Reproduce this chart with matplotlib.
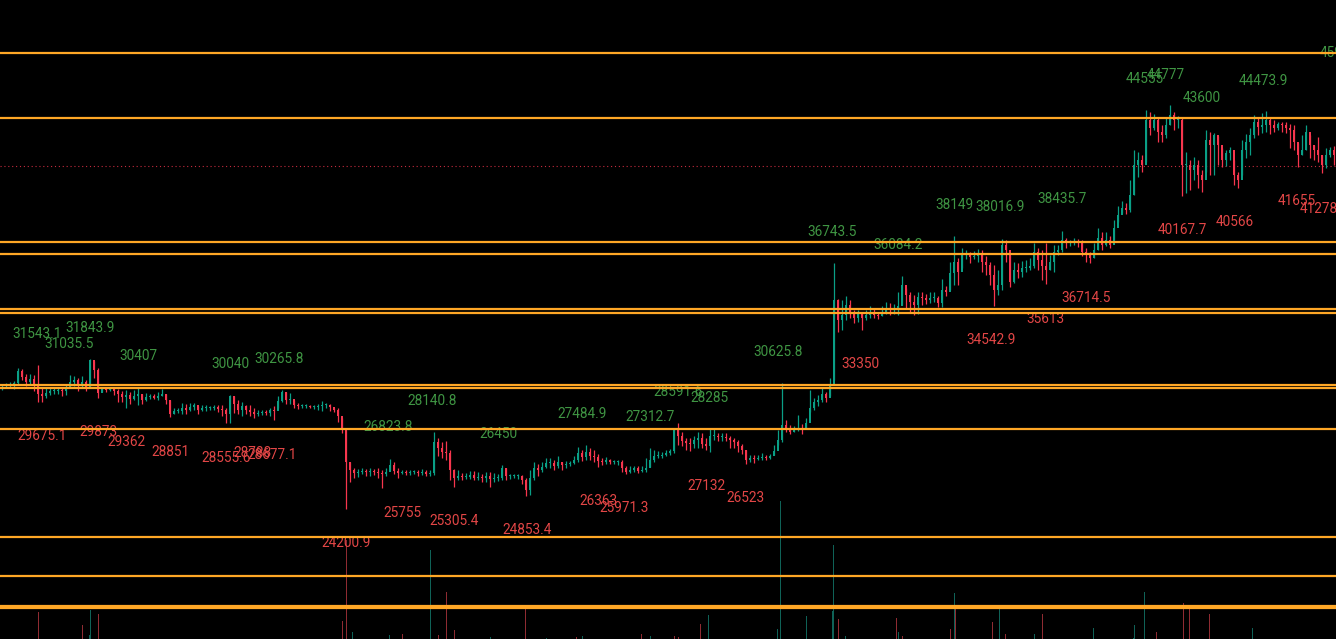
import matplotlib
matplotlib.use("Agg")
import matplotlib.pyplot as plt

closes = [
30480,30530,30580,30630,31250,30940,30690,30840,30530,30070,
29970,30120,30230,30230,30280,30230,30380,30690,30790,30580,
30690,30380,31810,31300,30120,30330,30280,30330,30230,30070,
29920,30020,29820,29970,30070,29770,29920,29970,29870,29970,
30070,29770,29050,29200,29200,29360,29260,29410,29510,29260,
29360,29360,29360,29410,29310,29260,29050,29970,29560,29260,
29460,29260,29150,29050,29100,29150,29100,29260,29200,29720,
30180,29770,29820,29510,29460,29460,29460,29410,29410,29460,
29510,29510,29410,29260,28950,28340,26600,26190,26040,26090,
26140,26090,26140,26090,26040,25990,26090,26450,26140,26040,
26090,26040,26090,26090,26040,26090,25990,26040,27620,27310,
27110,27060,26190,25780,25880,25830,25830,25940,25780,25830,
25780,25880,25730,25780,25780,26300,25880,25880,25880,25880,
25680,25170,25780,26300,26190,26350,26550,26550,26400,26600,
26450,26500,26550,26700,27060,26860,27110,26910,26860,26650,
26600,26700,26600,26600,26600,26300,26090,26190,26300,26140,
26190,26300,26700,26910,26910,26960,27060,27160,28290,27930,
27670,27570,27520,27720,27830,27520,27420,27930,27930,27880,
27880,27830,27720,27620,27420,27210,26700,26800,26750,26800,
26860,26800,26910,27160,27720,28490,28340,28130,28240,28340,
28240,28590,29360,29660,29770,30070,29870,30530,34870,33850,
34110,34620,34260,33950,34160,33950,34110,34210,34110,34060,
34260,34460,34360,34410,34570,35640,35130,34770,34620,35030,
34980,34870,34980,34980,34720,35380,35280,36250,36810,36300,
37170,37220,37070,37120,37270,36810,36660,36150,35380,35640,
37680,37430,35790,36400,36300,36510,36510,36610,37320,36920,
36610,36400,36810,37320,37430,37940,37780,37780,37880,37780,
37320,37170,37020,37430,38040,37680,37940,37680,38550,39210,
39570,39470,40230,41770,42020,41770,44060,43650,44060,43450,
43300,43810,44320,44060,44060,41770,41770,41510,41770,41250,
41000,43040,42790,43300,42790,42020,42380,42530,41250,41000,
42530,42940,43300,43960,43710,43810,44060,43810,43650,43860,
43810,43650,43550,42940,42280,42530,43450,42790,42530,42280,
41770,42280,42530,42280]

highs = [
30580,30630,30690,30740,31400,31350,31090,31090,31040,31550,
30380,30380,30430,30430,30430,30380,30580,31040,30990,30890,
30990,30790,31860,31760,31400,30430,30430,30430,30380,30330,
30230,30280,30180,30280,30380,30070,30120,30070,30070,30180,
30330,30070,29770,29360,29360,29610,29560,29610,29610,29460,
29510,29510,29460,29510,29510,29510,29360,30020,29970,29770,
29660,29510,29510,29360,29260,29260,29260,29360,29460,29970,
30280,30180,30120,29770,29610,29560,29560,29510,29510,29560,
29720,29610,29560,29360,29360,28850,28240,26600,26300,26250,
26300,26250,26300,26250,26300,26190,26300,26750,26600,26300,
26190,26190,26190,26190,26190,26250,26190,26190,28130,27830,
27620,27670,27210,26250,26190,26040,26040,26140,26140,26090,
25990,26090,26090,26040,25990,26450,26300,25990,25990,25990,
25940,25780,26190,26600,26500,26600,26800,26800,26700,26910,
26600,26650,26650,26910,27370,27210,27470,27310,27210,27010,
26800,26860,26750,26700,26700,26700,26400,26400,26400,26400,
26400,26800,27310,27210,27160,27110,27210,27260,28340,28590,
28130,27830,27830,27930,28130,28080,27830,28340,28290,28080,
28080,28080,27930,27830,27720,27520,27210,26960,26960,26960,
27060,26960,27010,27470,28240,30630,28750,28490,28440,29000,
28540,28850,30280,29870,30020,30380,30180,30890,36760,34920,
34870,35080,34870,34360,34360,34260,34360,34570,34410,34260,
34570,34770,34720,34670,35280,36100,35490,35280,35130,35280,
35280,35180,35280,35280,35080,35950,35590,36810,38140,37020,
37530,37430,37320,37370,37480,37430,37120,36810,36660,36400,
37990,37940,37170,36810,36760,36860,36920,37020,37780,37530,
37430,37780,37170,37680,37680,38400,38040,37940,38040,37990,
37940,37530,37320,37780,38550,38340,38340,38140,38960,39670,
39930,39820,41000,42530,42430,42280,44570,44470,44370,44170,
43810,44170,44830,44470,44270,44170,42430,42020,42170,42020,
41510,43550,43450,43400,43250,42630,42530,42680,42020,41410,
43040,43350,43650,44320,44170,44420,44520,44170,44060,43960,
43960,43960,43860,43810,42890,43300,43810,43300,42790,43200,
42280,42630,42680,42740]

lows = [
30280,30380,30380,30330,30530,30790,30480,30580,30230,29660,
29660,29870,30020,30070,30070,29970,30020,30380,30480,30230,
30380,30230,30380,30890,29870,30180,30180,30230,30020,29660,
29660,29360,29560,29770,29510,29560,29720,29820,29820,29770,
29970,29560,28900,29050,29100,29050,29050,29200,29260,29050,
29200,29200,29260,29260,29150,28950,28590,28590,29100,29050,
28950,29050,28950,28850,28950,29000,29000,28950,28750,29360,
29660,29560,29560,29360,29310,29360,29360,29360,29310,29260,
29200,29360,29200,29150,28640,28080,24200,25580,25780,25830,
25990,25880,25880,25940,25780,25270,25880,26190,25990,25780,
25990,25940,25940,25990,25880,25940,25880,25880,25940,26910,
26800,26700,25680,25320,25680,25680,25730,25730,25680,25680,
25580,25580,25320,25580,25630,25680,25680,25730,25780,25730,
25480,24870,24920,25680,25880,26090,26300,26300,26190,26300,
26190,26300,26400,26500,26600,26650,26700,26700,26600,26350,
26450,26500,26500,26500,26450,26090,25990,26040,26090,26040,
26090,26090,26350,26600,26800,26800,26910,26960,27060,27470,
27420,27210,27160,27310,27310,27310,27210,27110,27720,27670,
27670,27670,27310,27310,27110,27010,26500,26600,26550,26700,
26700,26700,26750,26960,27470,27620,28130,28030,28130,28180,
28030,28340,29150,29260,29460,29660,29660,29970,30790,33240,
33340,33850,33950,33700,33750,33340,33850,33950,33950,33900,
34060,34160,34110,34160,34110,34620,34460,34260,34110,34160,
34620,34670,34720,34770,34520,34520,35080,35380,35640,35640,
36510,36970,36760,36970,36810,36300,36150,35640,34570,35130,
35380,36810,35540,35740,36000,36050,36300,36400,36510,36400,
35890,35690,36400,36300,37170,37320,37530,37630,37680,37580,
37120,36810,36760,37020,37430,37430,37630,37530,37940,38850,
39310,39260,39360,40230,41150,41410,41920,43300,43550,42940,
42940,43140,43810,43550,43650,40180,40340,40490,41000,40590,
40390,41410,41250,41250,41770,41660,41710,42020,40740,40590,
41250,42120,42280,43140,43300,43400,43450,43350,43450,43550,
43450,43400,42630,42530,41660,42280,42530,42120,42020,41920,
41360,41610,42170,41770]

opens = [closes[0]] + closes[:-1]

level_prices = [47490, 44165, 37834, 37221, 34413, 34209, 30532, 30354,
                28286, 22771, 20780, 19270, 19130]
last_price = 41715

vol_up_pos = [9.0,22.0,21.8,87.5,96.8,107.2,122,136.2,145.2,162,176.5,193.8,194.6,
              201.2,207.5,207.8,210.8,224,238,249.4,258.2,260,272.8,282.8,283.2,285.5,312.6]
vol_up_val = [19,30,5,8,5,90,3,2,4,4,25,11,139,24,29,95,4,8,47,32,6,7,12,2,15,48,12]
vol_down_pos = [9.0,20,24,85.2,86.2,100,109,111.1,113,130.8,143.5,159.8,168,169.2,174.5,
                209,223.5,225.2,237,238.4,247.5,250.8,260,288.5,295.4,296.8,301.8]
vol_down_val = [28,15,26,19,100,6,5,48,10,32,3,6,4,3,16,21,22,4,11,35,18,6,26,8,37,32,26]

high_labels = ["31543.1","31843.9","31035.5","30407","30040","30265.8","28140.8","26823.8",
               "26450","27484.9","27312.7","28591.6","28285","30625.8","36743.5","36084.2",
               "38149","38016.9","38435.7","44555","44777","43600","44473.9","45900"]
high_label_pos = [8.8,22.0,16.8,34.0,57.0,69.3,107.5,96.5,124,145,162,169,176.8,194.0,207.6,
                  224.0,238,249.5,265.0,285.6,291.0,300.0,315.3,334.2]
low_labels = ["29675.1","29873","29362","28851","28555.6","28788","28677.1","25755","25305.4",
              "24853.4","24200.9","26363","25971.3","27132","26523","33350","34542.9","35613",
              "36714.5","40167.7","40566","41655","41278"]
low_label_pos = [10,24,31.0,42,56.0,62.5,67.5,100,113,131.2,86,149.0,155.5,176,185.8,214.6,
                 247.2,260.8,271,295.0,308.3,323.6,329.2]

UP, DOWN = "#0a9f86", "#f7364e"
VOL_UP, VOL_DOWN = "#0f6257", "#8f2b32"
GREEN_TXT, RED_TXT = "#3f9543", "#e24646"
LEVEL = "#ffa726"

plt.rcParams["font.family"] = ["Roboto", "DejaVu Sans"]
fig = plt.figure(figsize=(13.36, 6.39), dpi=100, facecolor="black")
vax = fig.add_axes([0, 0, 1, 1], facecolor="black")
ax = fig.add_axes([0, 0, 1, 1], facecolor="none")

vax.bar(vol_up_pos, vol_up_val, width=0.25, color=VOL_UP, linewidth=0)
vax.bar(vol_down_pos, vol_down_val, width=0.25, color=VOL_DOWN, linewidth=0)
vax.set_xlim(-0.5, 333.5)
vax.set_ylim(1, 640)
vax.axis("off")

for i, (o, h, l, c) in enumerate(zip(opens, highs, lows, closes)):
    col = UP if c >= o else DOWN
    ax.vlines(i, l, h, color=col, linewidth=0.9, zorder=3)
    ax.bar(i, max(abs(c - o), 40), bottom=min(o, c), width=0.72, color=col, linewidth=0, zorder=3)

for p in level_prices:
    ax.axhline(p, color=LEVEL, linewidth=1.6, zorder=5)
ax.axhline(last_price, color=DOWN, linewidth=0.8, linestyle=(0, (1, 2.5)), alpha=0.8, zorder=2)

for txt, pos in zip(high_labels, high_label_pos):
    ax.annotate(txt, (pos, float(txt)), xytext=(0, 31), textcoords="offset pixels",
                ha="center", va="center", color=GREEN_TXT, fontsize=9.8, zorder=2,
                annotation_clip=False)
for txt, pos in zip(low_labels, low_label_pos):
    ax.annotate(txt, (pos, float(txt)), xytext=(0, -34), textcoords="offset pixels",
                ha="center", va="center", color=RED_TXT, fontsize=9.8, zorder=2,
                annotation_clip=False)

ax.set_xlim(-0.5, 333.5)
ax.set_ylim(17563, 50190)
ax.axis("off")
fig.savefig("out.png", dpi=100, facecolor="black")
